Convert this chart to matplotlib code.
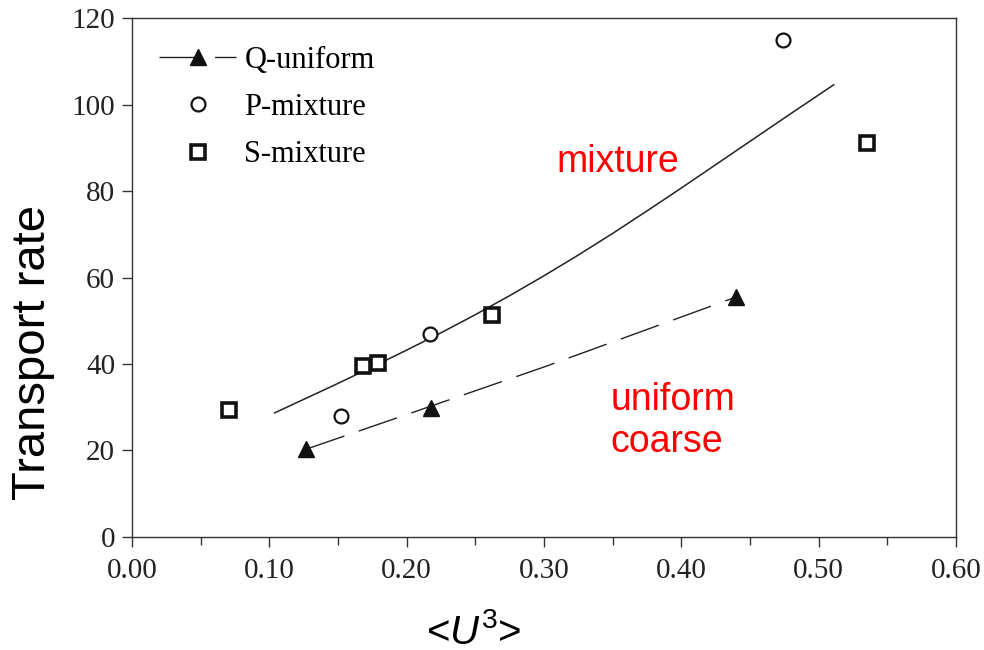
import matplotlib
matplotlib.use("Agg")
import matplotlib.pyplot as plt
from matplotlib.ticker import MultipleLocator, FormatStrFormatter

plt.rcParams["mathtext.fontset"] = "custom"
plt.rcParams["mathtext.rm"] = "Liberation Sans"
plt.rcParams["mathtext.it"] = "Liberation Sans:italic"

# measured points
q_uniform_x = [0.127, 0.218, 0.440]
q_uniform_y = [20.3, 29.8, 55.5]

p_mixture_x = [0.152, 0.217, 0.474]
p_mixture_y = [28.0, 46.9, 114.9]

s_mixture_x = [0.071, 0.168, 0.179, 0.262, 0.535]
s_mixture_y = [29.4, 39.5, 40.2, 51.3, 91.1]

# fitted trends
mix_fit_x = [0.104, 0.125, 0.150, 0.175, 0.200, 0.225, 0.250, 0.275, 0.300,
             0.325, 0.350, 0.375, 0.400, 0.425, 0.450, 0.475, 0.511]
mix_fit_y = [28.7, 31.8, 35.5, 39.3, 43.2, 47.2, 51.4, 55.8, 60.4,
             65.2, 70.2, 75.4, 80.7, 86.1, 91.5, 96.9, 104.6]

uni_fit_x = [0.127, 0.200, 0.300, 0.440]
uni_fit_y = [20.3, 28.3, 39.3, 55.5]

fig = plt.figure(figsize=(9.84, 6.5), dpi=100)
ax = fig.add_axes([0.134, 0.174, 0.8375, 0.798])

edge = "#333333"
dash = (29, 11)
ax.plot(mix_fit_x, mix_fit_y, color="#222222", lw=1.1)
ax.plot(uni_fit_x, uni_fit_y, color="#222222", lw=1.0, dashes=dash)
# legend handle for the uniform series: dashed line with triangle
ax.plot([], [], color="#222222", lw=1.0, dashes=dash, marker="^",
        ms=11, mfc="#111111", mec="#111111", label="Q-uniform")
ax.plot(q_uniform_x, q_uniform_y, ls="none", marker="^", ms=11,
        mfc="#111111", mec="#111111")
ax.plot(p_mixture_x, p_mixture_y, ls="none", marker="o", ms=10,
        mfc="white", mec="#111111", mew=1.6, label="P-mixture")
ax.plot(s_mixture_x, s_mixture_y, ls="none", marker="s", ms=10,
        mfc="white", mec="#111111", mew=2.6, label="S-mixture")

ax.set_xlim(0, 0.6)
ax.set_ylim(0, 120)
ax.xaxis.set_major_locator(MultipleLocator(0.1))
ax.xaxis.set_minor_locator(MultipleLocator(0.05))
ax.yaxis.set_major_locator(MultipleLocator(20))
ax.xaxis.set_major_formatter(FormatStrFormatter("%.2f"))

for s in ax.spines.values():
    s.set_color(edge)
    s.set_linewidth(1.0)
ax.tick_params(axis="both", which="major", direction="out", length=7,
               width=1.0, color=edge, labelsize=21, labelcolor="#222222",
               labelfontfamily="Liberation Serif")
ax.tick_params(axis="x", which="minor", direction="out", length=6,
               width=1.0, color=edge)
ax.tick_params(axis="x", which="major", pad=8)
ax.tick_params(axis="y", which="major", pad=5)

fig.text(33 / 984, 1 - 352 / 650, "Transport rate", rotation=90,
         fontsize=34, family="Liberation Sans", ha="center", va="center")
fig.text(474 / 984, 1 - 632 / 650, r"<$\mathit{U}^{\mathrm{3}}$>",
         fontsize=29, family="Liberation Sans", ha="center", va="center")

ax.text(0.3536, 86.7, "mixture", color="red", fontsize=27,
        family="Liberation Sans", ha="center", va="center")
ax.text(0.3485, 26.8, "uniform\ncoarse", color="red", fontsize=27,
        family="Liberation Sans", ha="left", va="center", linespacing=1.2)

ax.legend(loc="upper left", frameon=False, handlelength=2.5,
          handletextpad=0.28, labelspacing=0.6, borderaxespad=0.5,
          prop={"family": "Liberation Serif", "size": 22})

fig.savefig("out.png", dpi=100)
